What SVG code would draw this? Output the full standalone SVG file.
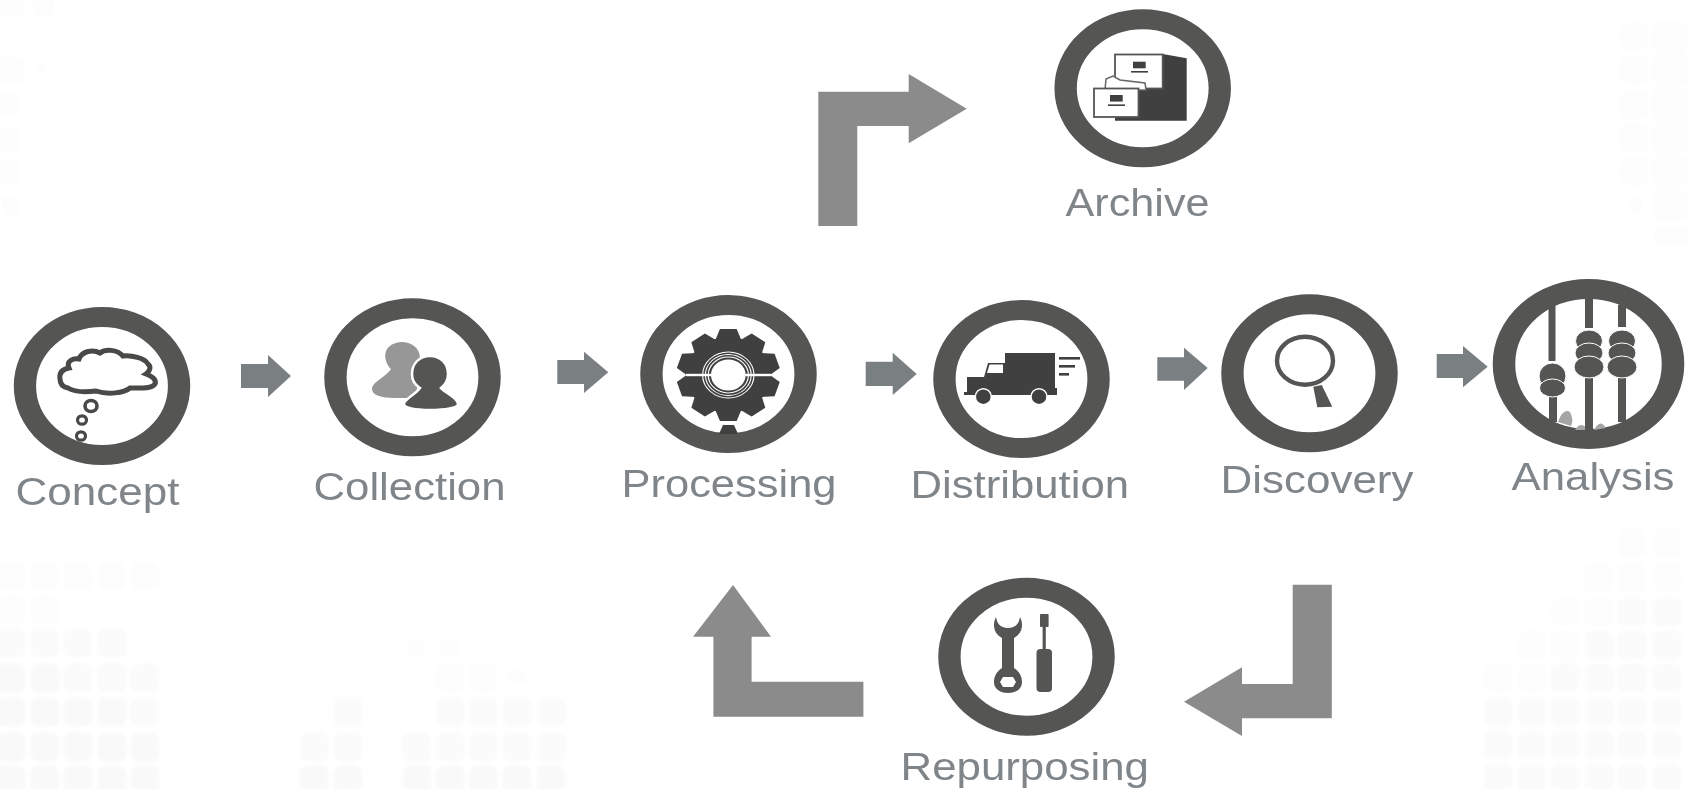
<svg xmlns="http://www.w3.org/2000/svg" width="1688" height="789" viewBox="0 0 1688 789">
<style>
.ring{fill:#fff;stroke:#545452;stroke-width:20}
.label{font-family:"Liberation Sans",Arial,sans-serif;font-size:39px;fill:#7f8589}
.big{fill:#8b8b8b}
.small{fill:#7a7f82}
.dk{fill:#414141}
.md{fill:#545452}
.wh{fill:#fff}
.wl{fill:none;stroke:#fff}
.ln{fill:none;stroke:#484846}
.tile1{fill:#fdfdfd}
.tile2{fill:#fbfbfb}
.tile3{fill:#f9f9f9}
</style>
<defs>
<filter id="soft" filterUnits="userSpaceOnUse" x="0" y="0" width="1688" height="789"><feGaussianBlur stdDeviation="0.6"/></filter>
<filter id="softer" filterUnits="userSpaceOnUse" x="0" y="0" width="1688" height="789"><feGaussianBlur stdDeviation="1.5"/></filter>
<rect id="t" x="-14.5" y="-14.5" width="29" height="29" rx="8"/>
<polygon id="tooth" points="-7.5,-46 7.5,-46 12,-34 -12,-34"/>
</defs>
<rect width="1688" height="789" fill="#fff"/>
<g id="background" filter="url(#softer)">
<g class="tile1">
<rect x="0" y="-4" width="25" height="20" rx="5"/><rect x="33" y="-4" width="21" height="19" rx="5"/>
<rect x="-5" y="57" width="30" height="26" rx="7"/><rect x="36" y="62" width="9" height="12" rx="3"/>
<rect x="-5" y="93" width="25" height="23" rx="7"/><rect x="-5" y="128" width="25" height="23" rx="7"/>
<rect x="-5" y="160" width="25" height="23" rx="7"/><rect x="2" y="196" width="18" height="19" rx="5"/>
<use href="#t" x="1634" y="37"/><use href="#t" x="1634" y="70"/><use href="#t" x="1634" y="104"/><use href="#t" x="1634" y="137"/><use href="#t" x="1634" y="171"/><rect x="1628" y="197" width="14" height="16" rx="4"/>
<rect x="1652" y="22" width="36" height="32" rx="8"/><rect x="1652" y="54" width="36" height="32" rx="8"/><rect x="1652" y="88" width="36" height="32" rx="8"/><rect x="1652" y="121" width="36" height="32" rx="8"/><rect x="1652" y="155" width="36" height="32" rx="8"/><rect x="1652" y="190" width="36" height="32" rx="8"/><rect x="1654" y="226" width="34" height="20" rx="4"/>
<use href="#t" x="11" y="576"/><use href="#t" x="45" y="576"/><use href="#t" x="78" y="576"/><use href="#t" x="112" y="576"/><use href="#t" x="145" y="576"/>
<use href="#t" x="11" y="610"/><use href="#t" x="45" y="610"/>
<rect x="408" y="640" width="18" height="17" rx="6"/><rect x="441" y="640" width="18" height="17" rx="6"/>
<use href="#t" x="450" y="678"/><use href="#t" x="483" y="678"/><rect x="506" y="670" width="20" height="14" rx="5"/>
<use href="#t" x="1632" y="543"/><use href="#t" x="1667" y="543"/><use href="#t" x="1599" y="577"/><use href="#t" x="1632" y="577"/><use href="#t" x="1667" y="577"/>
<use href="#t" x="1565" y="612"/><use href="#t" x="1599" y="612"/><use href="#t" x="1532" y="645"/><use href="#t" x="1565" y="645"/><use href="#t" x="1498" y="678"/><use href="#t" x="1532" y="678"/>
</g>
<g class="tile2">
<use href="#t" x="11" y="643"/><use href="#t" x="45" y="643"/><use href="#t" x="78" y="643"/><use href="#t" x="112" y="643"/>
<use href="#t" x="78" y="678"/><use href="#t" x="112" y="678"/><use href="#t" x="145" y="678"/>
<use href="#t" x="145" y="712"/>
<use href="#t" x="348" y="712"/><use href="#t" x="314" y="747"/><use href="#t" x="348" y="747"/>
<use href="#t" x="450" y="712"/><use href="#t" x="483" y="712"/><use href="#t" x="517" y="712"/><use href="#t" x="551" y="712"/>
<use href="#t" x="417" y="747"/><use href="#t" x="450" y="747"/><use href="#t" x="483" y="747"/><use href="#t" x="517" y="747"/><use href="#t" x="551" y="747"/>
<use href="#t" x="1599" y="645"/><use href="#t" x="1632" y="612"/><use href="#t" x="1667" y="612"/><use href="#t" x="1632" y="645"/><use href="#t" x="1667" y="645"/>
<use href="#t" x="1565" y="678"/><use href="#t" x="1599" y="678"/><use href="#t" x="1632" y="678"/><use href="#t" x="1667" y="678"/>
<use href="#t" x="1498" y="712"/><use href="#t" x="1532" y="712"/><use href="#t" x="1565" y="712"/><use href="#t" x="1599" y="712"/><use href="#t" x="1632" y="712"/><use href="#t" x="1667" y="712"/>
<use href="#t" x="1498" y="745"/><use href="#t" x="1532" y="745"/><use href="#t" x="1565" y="745"/><use href="#t" x="1599" y="745"/><use href="#t" x="1632" y="745"/><use href="#t" x="1667" y="745"/>
<use href="#t" x="1498" y="778"/><use href="#t" x="1532" y="778"/><use href="#t" x="1565" y="778"/><use href="#t" x="1599" y="778"/><use href="#t" x="1632" y="778"/><use href="#t" x="1667" y="778"/>
</g>
<g class="tile3">
<use href="#t" x="11" y="678"/><use href="#t" x="45" y="678"/>
<use href="#t" x="11" y="712"/><use href="#t" x="45" y="712"/><use href="#t" x="78" y="712"/><use href="#t" x="112" y="712"/>
<use href="#t" x="11" y="747"/><use href="#t" x="45" y="747"/><use href="#t" x="78" y="747"/><use href="#t" x="112" y="747"/><use href="#t" x="145" y="747"/>
<use href="#t" x="11" y="780"/><use href="#t" x="45" y="780"/><use href="#t" x="78" y="780"/><use href="#t" x="112" y="780"/><use href="#t" x="145" y="780"/>
<use href="#t" x="314" y="780"/><use href="#t" x="348" y="780"/>
<use href="#t" x="417" y="780"/><use href="#t" x="450" y="780"/><use href="#t" x="483" y="780"/><use href="#t" x="517" y="780"/><use href="#t" x="551" y="780"/>
</g>
</g>
<g id="connectors" filter="url(#soft)">
<polygon class="small" points="241,364 268,364 268,355 291,376 268,397 268,388 241,388"/>
<polygon class="small" points="557.3,360 584,360 584,351.7 608.3,372.3 584,393 584,384 557.3,384"/>
<polygon class="small" points="865.7,361.7 892.7,361.7 892.7,352.7 916.7,374 892.7,395 892.7,386 865.7,386"/>
<polygon class="small" points="1157.3,357.3 1184,357.3 1184,347.7 1207.7,368 1184,390 1184,380.7 1157.3,380.7"/>
<polygon class="small" points="1436.7,354 1463,354 1463,346 1487.7,366.7 1463,387.3 1463,378 1436.7,378"/>
<polygon class="big" points="818.3,226 818.3,91.7 908.7,91.7 908.7,74 966.7,108.7 908.7,143.3 908.7,126 857.3,126 857.3,226"/>
<polygon class="big" points="863.4,716.7 713.4,716.7 713.4,636.7 693,636.7 733,585 771,636.7 751.6,636.7 751.6,681.7 863.4,681.7"/>
<polygon class="big" points="1292.7,584.7 1331.8,584.7 1331.8,718.3 1242,718.3 1242,736 1184,701.7 1242,667.3 1242,684 1292.7,684"/>
</g>
<g id="node-archive" filter="url(#soft)">
<circle class="ring" r="69" transform="translate(1142.7 88.3) scale(1.117 1)"/>
<polygon class="dk" points="1162.7,54 1186.7,58.3 1186.7,120.7 1115,120.7 1115,88 1162.7,88"/>
<rect x="1115" y="54.5" width="47.7" height="34" fill="#fff" stroke="#555" stroke-width="1.8"/>
<path d="M1105 90 L1106 79 L1113 76 L1120 80 L1145 83 L1146 90Z" fill="#fff" stroke="#666" stroke-width="1.5"/>
<rect x="1094" y="88.5" width="44.5" height="28.5" fill="#fff" stroke="#555" stroke-width="1.8"/>
<rect class="dk" x="1133" y="61.7" width="12.7" height="6.6"/><rect class="dk" x="1131" y="71" width="17" height="1.6"/>
<rect class="dk" x="1110" y="95" width="12.7" height="6.6"/><rect class="dk" x="1108" y="104.4" width="17" height="1.6"/>
<text class="label" x="1065.5" y="216" textLength="144" lengthAdjust="spacingAndGlyphs">Archive</text>
</g>
<g id="node-concept" filter="url(#soft)">
<circle class="ring" r="69" transform="translate(102 386) scale(1.117 1)"/>
<path d="M60 379 C59 372 63 369 69 368 C66 361 73 358 79 359 C82 351 93 349 100 353 C105 349 117 349 123 356 C131 355 145 358 148 364 C152 367 149 372 146 374 C151 376 157 379 155 384 C152 389 140 388 130 388 C124 393 108 395 96 391 C88 392 76 393 68 388 C63 387 60 384 60 379Z" fill="#fff" stroke="#484846" stroke-width="5"/>
<ellipse class="ln" cx="91" cy="406" rx="6" ry="5.5" stroke-width="3.6"/>
<ellipse class="ln" cx="82" cy="420" rx="4.5" ry="4.2" stroke-width="3.2"/>
<ellipse class="ln" cx="81" cy="436" rx="4.5" ry="4.2" stroke-width="3.2"/>
<text class="label" x="15.5" y="505" textLength="164" lengthAdjust="spacingAndGlyphs">Concept</text>
</g>
<g id="node-collection" filter="url(#soft)">
<circle class="ring" r="69" transform="translate(412.5 377.3) scale(1.117 1)"/>
<path d="M401 342 C413 342 420 349 420 358 L416 398 L395 398 C381 398 372 395 372 389 C372 382 386 377 391 369 C383 361 381 344 401 342Z" fill="#979797"/>
<path d="M430 356 C441 356 448 364 448 374 C448 380 445 385 441 388 C447 394 458 398 458 404 C458 408 445 410 430 410 C415 410 404 408 404 404 C404 399 415 395 420 388 C415 385 412 380 412 374 C412 364 419 356 430 356Z" fill="#545452" stroke="#fff" stroke-width="2.5"/>
<text class="label" x="313.5" y="500" textLength="192" lengthAdjust="spacingAndGlyphs">Collection</text>
</g>
<g id="node-processing" filter="url(#soft)">
<circle class="ring" r="69" transform="translate(728.5 374) scale(1.117 1)"/>
<g class="dk" transform="translate(728.3 375) scale(1.117 1)">
<circle r="38"/>
<use href="#tooth"/><use href="#tooth" transform="rotate(36)"/><use href="#tooth" transform="rotate(72)"/><use href="#tooth" transform="rotate(108)"/><use href="#tooth" transform="rotate(144)"/><use href="#tooth" transform="rotate(180)"/><use href="#tooth" transform="rotate(216)"/><use href="#tooth" transform="rotate(252)"/><use href="#tooth" transform="rotate(288)"/><use href="#tooth" transform="rotate(324)"/>
</g>
<polygon class="dk" points="723,425 734,425 738,434 719,434"/>
<rect class="wh" x="686" y="373.8" width="85" height="2.4"/>
<g transform="translate(728.3 375) scale(1.117 1)">
<circle class="wh" r="15.5"/>
<circle class="wl" r="18" stroke-width="1"/><circle class="wl" r="20.5" stroke-width="1"/><circle class="wl" r="23" stroke-width="1"/>
</g>
<text class="label" x="621.5" y="497" textLength="215" lengthAdjust="spacingAndGlyphs">Processing</text>
</g>
<g id="node-distribution" filter="url(#soft)">
<circle class="ring" r="69" transform="translate(1021.5 379) scale(1.117 1)"/>
<path class="dk" d="M1005 353 H1055 V388 H1057 V395 H964 V392 L967 392 V377 H984 L988 363 H1005Z"/>
<polygon class="wh" points="989.5,364.5 1003,364.5 1003,373 987,373"/>
<circle class="dk" cx="983.3" cy="396.7" r="8" stroke="#fff" stroke-width="1.5"/>
<circle class="dk" cx="1039" cy="396.7" r="8" stroke="#fff" stroke-width="1.5"/>
<rect class="dk" x="1059" y="357" width="21" height="2.6"/><rect class="dk" x="1059" y="365" width="16" height="2.6"/><rect class="dk" x="1059" y="373" width="10" height="2.6"/>
<text class="label" x="910.5" y="498" textLength="218.5" lengthAdjust="spacingAndGlyphs">Distribution</text>
</g>
<g id="node-discovery" filter="url(#soft)">
<circle class="ring" r="69" transform="translate(1309.5 373.3) scale(1.117 1)"/>
<ellipse cx="1305" cy="360.7" rx="28" ry="24" fill="none" stroke="#545452" stroke-width="4.4"/>
<polygon class="md" points="1313.3,386.7 1321.7,385 1332.3,406.7 1317.3,407.3"/>
<text class="label" x="1220.5" y="492.7" textLength="193" lengthAdjust="spacingAndGlyphs">Discovery</text>
</g>
<g id="node-analysis" filter="url(#soft)">
<circle class="ring" r="75" transform="translate(1588.5 364) scale(1.127 1)"/>
<path d="M1558 422 Q1563 408 1570 412 Q1574 420 1571 426 Z M1575 430 Q1581 420 1588 430 Z M1594 430 Q1600 418 1606 428 Z" fill="#a5a5a5"/>
<g class="md">
<rect x="1548.5" y="304" width="7" height="57"/>
<rect x="1585" y="296" width="8" height="32"/>
<rect x="1618" y="305" width="8" height="22"/>
<rect x="1549" y="392" width="8" height="30"/>
<rect x="1585" y="374" width="8" height="58"/>
<rect x="1618" y="374" width="8" height="48"/>
</g>
<g class="md" stroke="#fff" stroke-width="1">
<ellipse cx="1552.5" cy="376" rx="13.5" ry="13"/>
<ellipse cx="1552.5" cy="388" rx="13" ry="9"/>
<ellipse cx="1589" cy="341" rx="13.5" ry="11"/>
<ellipse cx="1589" cy="353" rx="14" ry="10"/>
<ellipse cx="1589" cy="367" rx="15" ry="11"/>
<ellipse cx="1622" cy="341" rx="13.5" ry="11"/>
<ellipse cx="1622" cy="353" rx="14" ry="10"/>
<ellipse cx="1622" cy="367" rx="15" ry="11"/>
</g>
<text class="label" x="1511.5" y="490" textLength="163" lengthAdjust="spacingAndGlyphs">Analysis</text>
</g>
<g id="node-repurposing" filter="url(#soft)">
<circle class="ring" r="69" transform="translate(1026.5 656.7) scale(1.117 1)"/>
<path class="md" d="M996 617 C992 625 994 634 1002 638 L1002 668 C996 672 994 677 994 682 C994 689 1000 693 1008 693 C1016 693 1022 689 1022 682 C1022 677 1020 672 1014 668 L1014 638 C1022 634 1024 625 1020 617 C1019 624 1015 628 1008 628 C1001 628 997 624 996 617Z"/>
<polygon class="wh" points="1003,677 1013,677 1016,682 1013,687 1003,687 1000,682"/>
<rect class="md" x="1040" y="614" width="8.6" height="13" rx="1"/>
<rect class="md" x="1042.6" y="626" width="3.2" height="25"/>
<rect class="md" x="1036.5" y="649" width="15.5" height="43" rx="4"/>
<text class="label" x="900.5" y="780" textLength="248.5" lengthAdjust="spacingAndGlyphs">Repurposing</text>
</g>
</svg>
